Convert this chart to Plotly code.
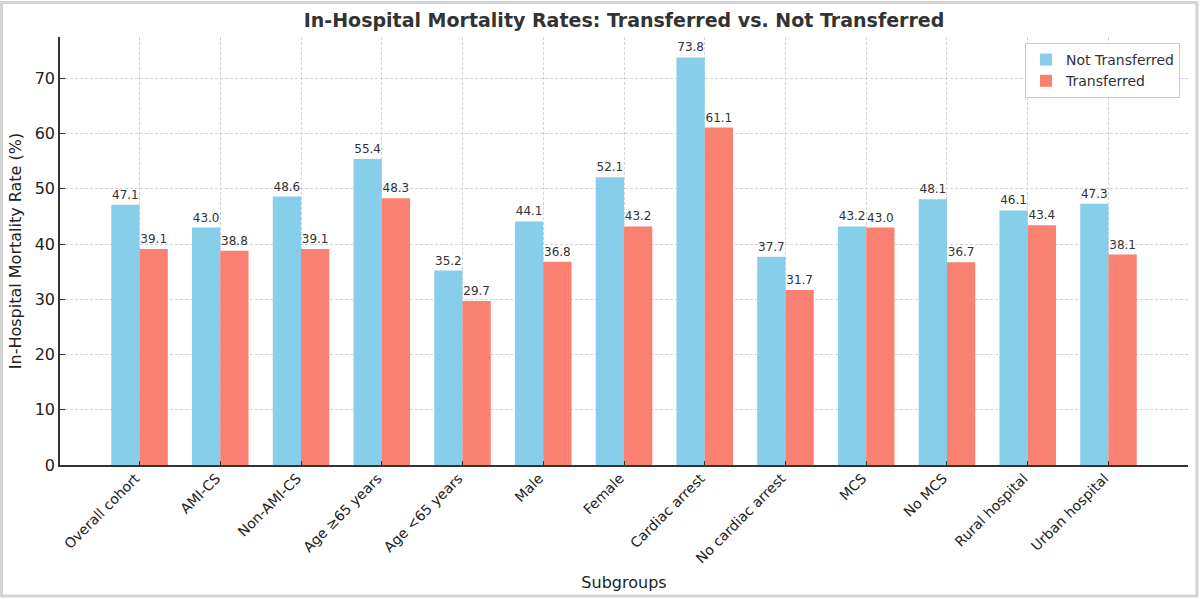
import plotly.graph_objects as go

categories = ["Overall cohort", "AMI-CS", "Non-AMI-CS", "Age ≥65 years", "Age <65 years",
              "Male", "Female", "Cardiac arrest", "No cardiac arrest", "MCS", "No MCS",
              "Rural hospital", "Urban hospital"]
not_transferred = [47.1, 43.0, 48.6, 55.4, 35.2, 44.1, 52.1, 73.8, 37.7, 43.2, 48.1, 46.1, 47.3]
transferred = [39.1, 38.8, 39.1, 48.3, 29.7, 36.8, 43.2, 61.1, 31.7, 43.0, 36.7, 43.4, 38.1]
y_ticks = [0, 10, 20, 30, 40, 50, 60, 70]

W, H = 1200, 599
L, R, T, B = 60, 12, 37, 134
pw, ph = W - L - R, H - T - B

def px_x(p):
    return (p - L) / pw

def px_y(p):
    return (H - B - p) / ph

font = "DejaVu Sans"
fig = go.Figure()
fig.add_trace(go.Bar(
    name="Not Transferred", x=list(range(len(categories))), y=not_transferred,
    marker=dict(color="#87CEEB", line=dict(width=0)),
    texttemplate="%{y:.1f}", textposition="outside",
    textfont=dict(size=12, color="#333333", family=font), cliponaxis=False,
))
fig.add_trace(go.Bar(
    name="Transferred", x=list(range(len(categories))), y=transferred,
    marker=dict(color="#FA8072", line=dict(width=0)),
    texttemplate="%{y:.1f}", textposition="outside",
    textfont=dict(size=12, color="#333333", family=font), cliponaxis=False,
))

fig.update_layout(
    width=W, height=H,
    margin=dict(l=L, r=R, t=T, b=B, autoexpand=False),
    paper_bgcolor="white", plot_bgcolor="white",
    font=dict(family=font, color="#333333"),
    barmode="group", bargap=0.3, bargroupgap=0,
    title=dict(text="<b>In-Hospital Mortality Rates: Transferred vs. Not Transferred</b>",
               x=px_x(624), xref="paper", xanchor="center",
               y=1 - 20 / H, yref="container", yanchor="middle",
               font=dict(size=19, color="#333333", family=font)),
    legend=dict(x=px_x(1180), y=px_y(43), xanchor="right", yanchor="top",
                bgcolor="rgba(255,255,255,0.9)", bordercolor="#cccccc", borderwidth=1,
                font=dict(size=14, color="#333333", family=font),
                traceorder="normal", itemwidth=30),
    showlegend=True,
)
fig.update_xaxes(
    range=[-0.985, 12.985], automargin=False,
    tickmode="array", tickvals=list(range(len(categories))), ticktext=categories,
    tickangle=-45, tickfont=dict(size=14, color="#222222", family=font),
    ticklabelshift=-4, ticklabelstandoff=-2,
    showline=True, linecolor="#333333", linewidth=1.5,
    ticks="inside", ticklen=4, tickcolor="#333333",
    showgrid=True, gridcolor="#d4d4d4", griddash="3px,2px", gridwidth=0.8,
    zeroline=False,
    title=dict(text="Subgroups", font=dict(size=16, color="#222222", family=font), standoff=12),
)
fig.update_yaxes(
    range=[0, 77.49], automargin=False,
    tickmode="array", tickvals=y_ticks,
    tickfont=dict(size=16, color="#222222", family=font),
    showline=True, linecolor="#333333", linewidth=1.5,
    ticks="inside", ticklen=5, tickcolor="#333333",
    showgrid=True, gridcolor="#d4d4d4", griddash="3px,2px", gridwidth=0.8,
    zeroline=False,
    title=dict(text="In-Hospital Mortality Rate (%)", font=dict(size=16, color="#222222", family=font), standoff=9),
)
fig.add_shape(type="rect", xref="paper", yref="paper",
              x0=px_x(1.5), x1=px_x(1197), y0=px_y(596), y1=px_y(2.5),
              line=dict(color="#d4d4d4", width=3), fillcolor="rgba(0,0,0,0)", layer="below")

fig.write_html("out.html", config={"displayModeBar": False},
               post_script="document.body.style.margin='0';document.body.style.overflow='hidden';")
